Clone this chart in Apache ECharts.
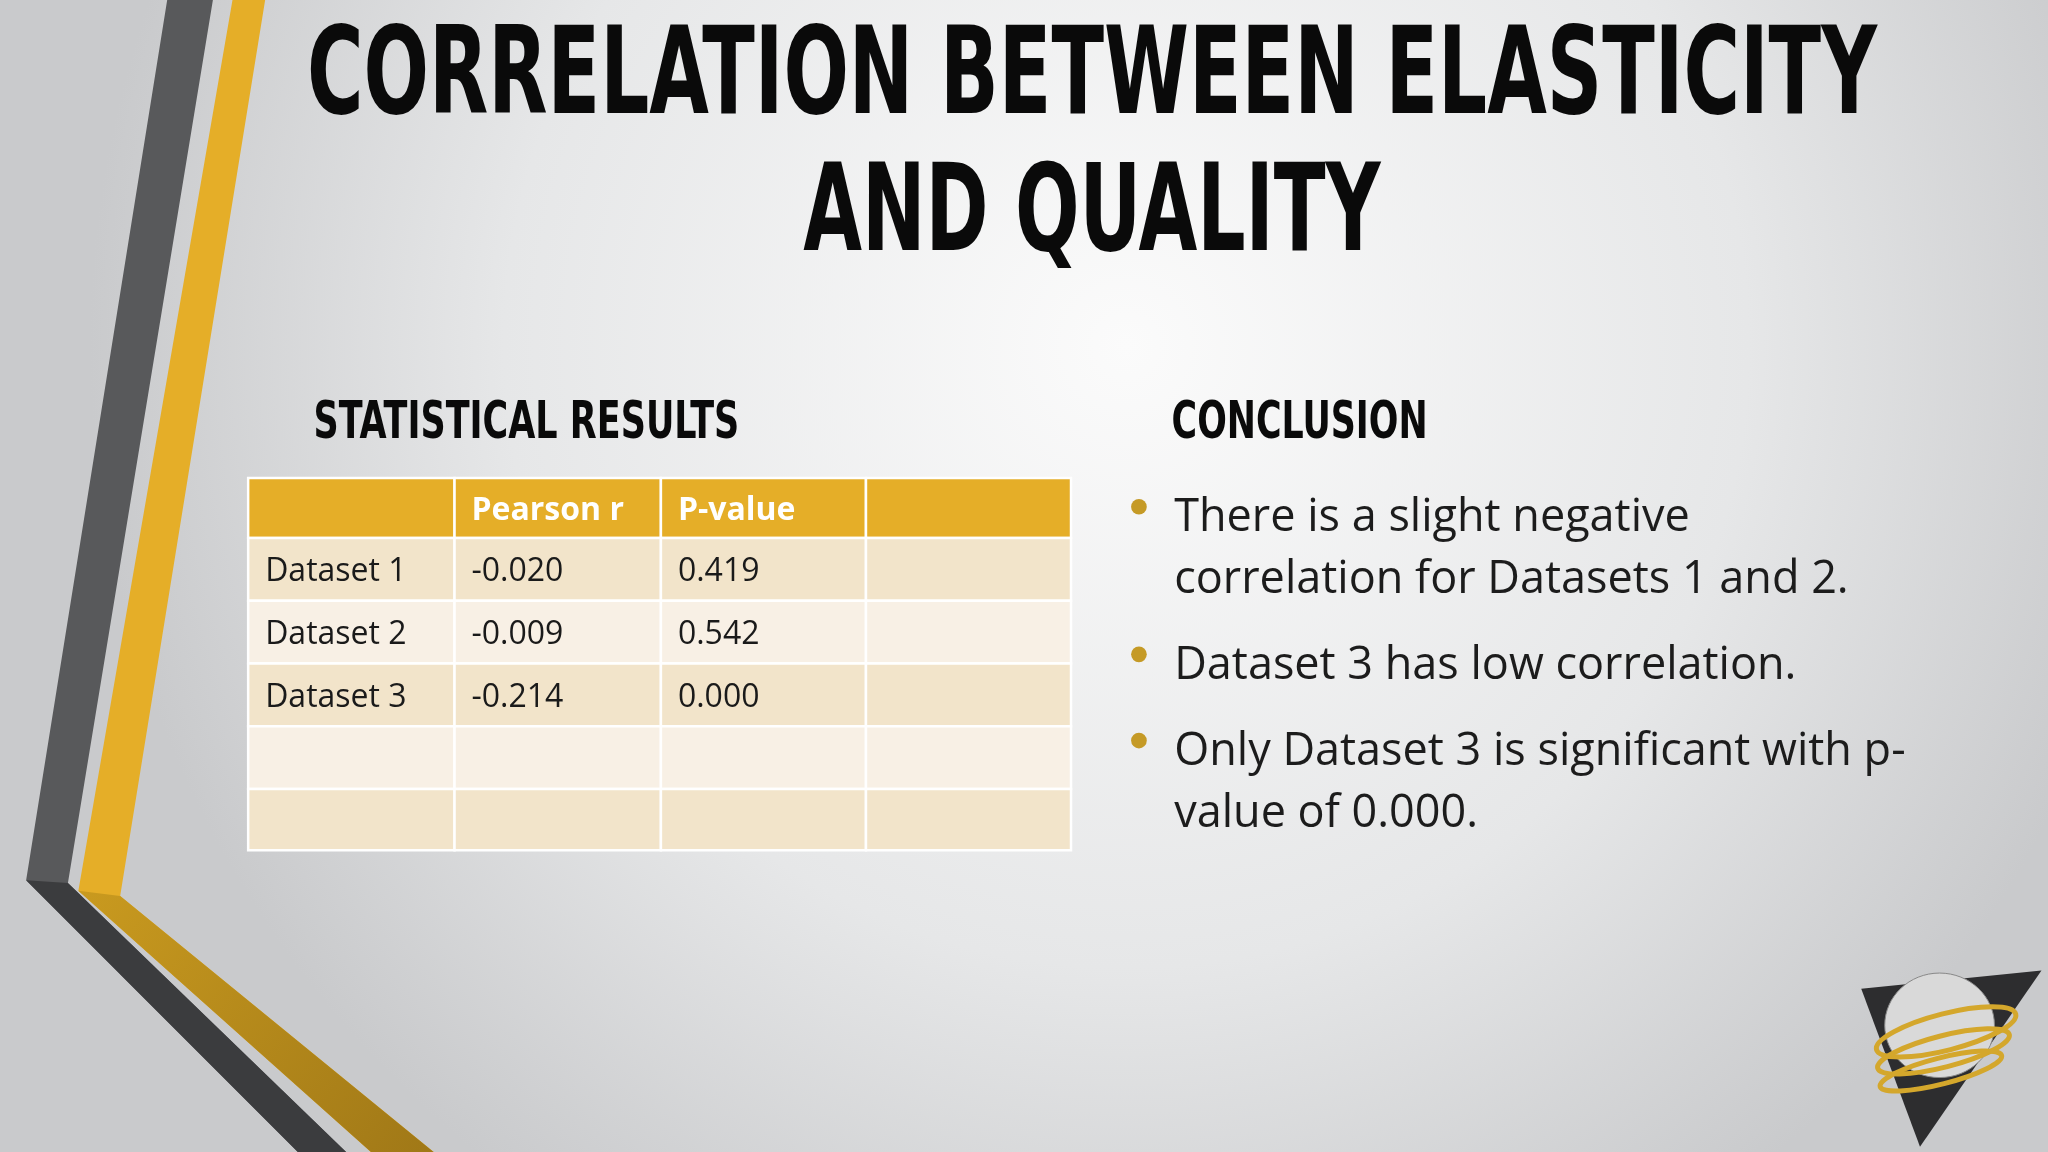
<!DOCTYPE html>
<html><head><meta charset="utf-8">
<script src="https://cdn.jsdelivr.net/npm/echarts@6/dist/echarts.min.js"></script>
<style>html,body{margin:0;padding:0;}#c{width:2048px;height:1152px;}</style>
</head><body><div id="c"></div>
<script>
const titleLines = ["CORRELATION BETWEEN ELASTICITY", "AND QUALITY"];
const leftHeading = "STATISTICAL RESULTS";
const rightHeading = "CONCLUSION";
const tableHeader = ["", "Pearson r", "P-value", ""];
const datasetNames = ["Dataset 1", "Dataset 2", "Dataset 3", "", ""];
const pearsonR = ["-0.020", "-0.009", "-0.214", "", ""];
const pValues = ["0.419", "0.542", "0.000", "", ""];
const bullets = [
  ["There is a slight negative", "correlation for Datasets 1 and 2."],
  ["Dataset 3 has low correlation."],
  ["Only Dataset 3 is significant with p-", "value of 0.000."]
];

const S = 2048 / 1568;
const P = v => v * S;
const ctx = document.createElement('canvas').getContext('2d');
function fitScale(text, font, width) { ctx.font = font; return width / ctx.measureText(text).width; }

const g = [];
g.push({type:'rect', shape:{x:0,y:0,width:2048,height:1152}, silent:true,
  style:{fill:{type:'radial',x:0.55,y:0.3,r:0.9,colorStops:[{offset:0,color:'#fbfbfb'},{offset:0.6,color:'#e6e7e8'},{offset:1,color:'#c9cacc'}]}}});
const poly = (pts, fill) => g.push({type:'polygon', silent:true, shape:{points:pts.map(p=>[P(p[0]),P(p[1])])}, style:{fill}});
poly([[128,0],[163,0],[52,676],[265,882],[228,882],[20,674]], '#58595b');
poly([[20,674],[52,676],[265,882],[228,882]], '#3b3c3e');
poly([[178,0],[203,0],[92,686],[332,882],[284,882],[60,682]], '#e5ae28');
poly([[60,682],[92,686],[332,882],[284,882]], {type:'linear',x:0,y:0,x2:1,y2:1,colorStops:[{offset:0,color:'#c99a1f'},{offset:1,color:'#a07817'}]});

const tFont = 'bold 104px "Liberation Sans Narrow", "DejaVu Sans Condensed", sans-serif';
const tWidths = [1202, 442];
titleLines.forEach((t,i)=>{
  const sx = fitScale(t, tFont, P(tWidths[i]));
  g.push({type:'text', x:P(836), y:P(i===0?62:167), scaleX:sx, scaleY:1.17,
    style:{text:t, font:tFont, fill:'#0a0a0a', align:'center', verticalAlign:'middle'}});
});
const hFont = 'bold 46px "Liberation Sans Narrow", "DejaVu Sans Condensed", sans-serif';
[[leftHeading,240,325],[rightHeading,897,325]].forEach(([t,x,w])=>{
  const sx = fitScale(t, hFont, P(t===leftHeading?326:196));
  g.push({type:'text', x:P(x), y:P(w), scaleX:sx, scaleY:1.12, style:{text:t, font:hFont, fill:'#0a0a0a', align:'left', verticalAlign:'middle'}});
});

const colX = [190,348,506,663,820];
const rowY = [366,412,460,508,556,604,651];
for (let r=0;r<6;r++){
  for (let c=0;c<4;c++){
    const fill = r===0 ? '#e5ae28' : (r%2===1 ? '#f2e4ca' : '#f8f0e5');
    g.push({type:'rect', shape:{x:P(colX[c]),y:P(rowY[r]),width:P(colX[c+1]-colX[c]),height:P(rowY[r+1]-rowY[r])},
      style:{fill, stroke:'#ffffff', lineWidth:2.5}});
    let txt = r===0 ? tableHeader[c] : [datasetNames, pearsonR, pValues, datasetNames.map(()=> '')][c][r-1];
    if (txt) g.push({type:'text', x:P(colX[c]+13), y:P((rowY[r]+rowY[r+1])/2+2),
      style:{text:txt, font:(r===0?'bold ':'')+'32px "Open Sans", sans-serif', fill:r===0?'#ffffff':'#1a1a1a', verticalAlign:'middle'}});
  }
}

let by = 397;
bullets.forEach(lines=>{
  g.push({type:'circle', shape:{cx:P(872),cy:P(by-9),r:P(6)}, style:{fill:'#c59a26'}});
  lines.forEach(l=>{
    g.push({type:'text', x:P(899), y:P(by), style:{text:l, font:'45px "Open Sans", sans-serif', fill:'#1c1c1c', verticalAlign:'middle'}});
    by += 47;
  });
  by += 19;
});

poly([[1425,757],[1563,743],[1470,878]], '#2d2d2f');
g.push({type:'ellipse', shape:{cx:P(1485),cy:P(785),rx:P(42),ry:P(40)}, style:{fill:'#d9d9d9', stroke:'#888', lineWidth:1}});
[[1490,790,55,14],[1488,805,52,12],[1486,820,48,10]].forEach(e=>{
  g.push({type:'ellipse', rotation:0.25, x:P(e[0]), y:P(e[1]), shape:{cx:0,cy:0,rx:P(e[2]),ry:P(e[3])}, style:{fill:'none', stroke:'#d4a72c', lineWidth:5}});
});

const chart = echarts.init(document.getElementById('c'));
chart.setOption({animation:false, graphic:{elements:g}});
</script></body></html>
